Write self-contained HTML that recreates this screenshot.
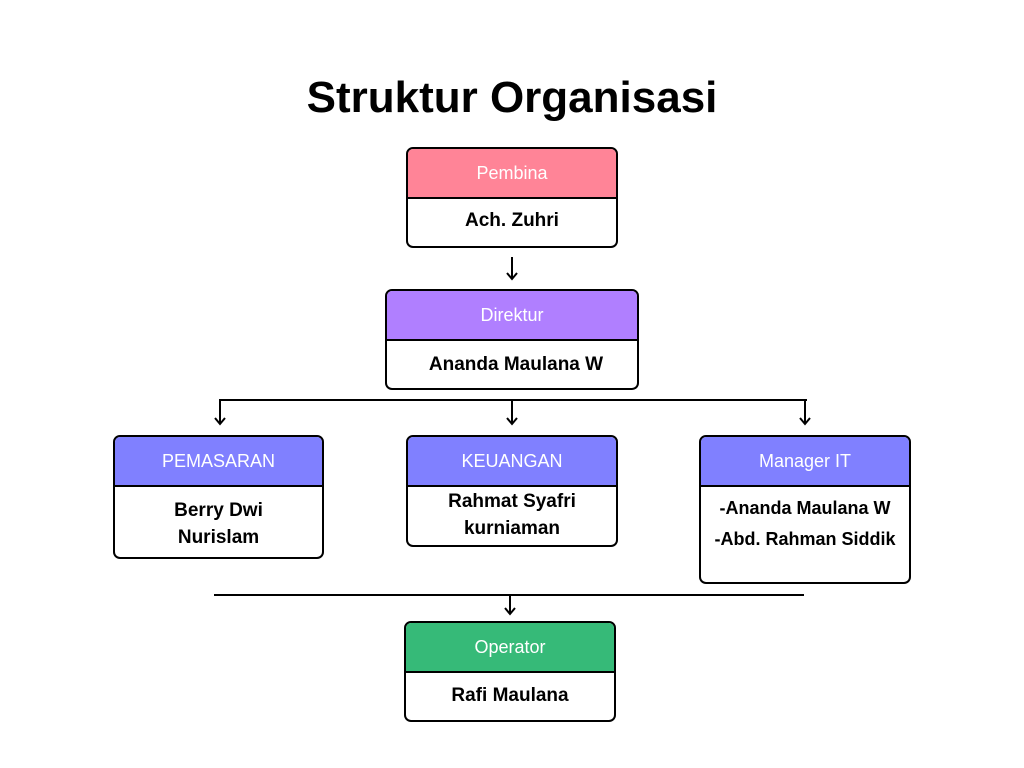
<!DOCTYPE html>
<html><head><style>
body{margin:0;width:1024px;height:768px;background:#fff;position:relative;font-family:"Liberation Sans",sans-serif;overflow:hidden}
.t{position:absolute;left:0;width:1024px;top:73px;text-align:center;font-weight:bold;font-size:44px;color:#000}
.b{position:absolute;border:2px solid #000;border-radius:7px;box-sizing:border-box;background:#fff;overflow:hidden}
.h{border-bottom:2px solid #000;height:50px;box-sizing:border-box;color:#fff;font-size:18px;text-align:center;line-height:48px}
.c{text-align:center;font-weight:bold;font-size:19px;color:#000}
</style></head><body>
<div class="t">Struktur Organisasi</div>
<div class="b" style="left:406px;top:147px;width:212px;height:101px"><div class="h" style="background:#FF8497">Pembina</div><div class="c" style="line-height:44px">Ach. Zuhri</div></div>
<div class="b" style="left:385px;top:289px;width:254px;height:101px"><div class="h" style="background:#B07FFF">Direktur</div><div class="c" style="line-height:47px;padding-left:8px">Ananda Maulana W</div></div>
<div class="b" style="left:113px;top:435px;width:211px;height:124px"><div class="h" style="background:#8080FF">PEMASARAN</div><div class="c" style="line-height:27px;padding-top:10px">Berry Dwi<br>Nurislam</div></div>
<div class="b" style="left:406px;top:435px;width:212px;height:112px"><div class="h" style="background:#8080FF">KEUANGAN</div><div class="c" style="line-height:27px;padding-top:1px">Rahmat Syafri<br>kurniaman</div></div>
<div class="b" style="left:699px;top:435px;width:212px;height:149px"><div class="h" style="background:#8080FF">Manager IT</div><div class="c" style="line-height:31px;padding-top:6px;font-size:18px">-Ananda Maulana W<br>-Abd. Rahman Siddik</div></div>
<div class="b" style="left:404px;top:621px;width:212px;height:101px"><div class="h" style="background:#36BA78">Operator</div><div class="c" style="line-height:46px">Rafi Maulana</div></div>
<svg width="1024" height="768" style="position:absolute;left:0;top:0" fill="none" stroke="#000" stroke-width="2">
<path d="M512 257V279M507 273L512 279L517 273"/>
<path d="M219 400H807"/>
<path d="M220 400V424M215 418L220 424L225 418"/>
<path d="M512 400V424M507 418L512 424L517 418"/>
<path d="M805 400V424M800 418L805 424L810 418"/>
<path d="M214 595H804"/>
<path d="M510 595V614M505 608L510 614L515 608"/>
</svg>
</body></html>
